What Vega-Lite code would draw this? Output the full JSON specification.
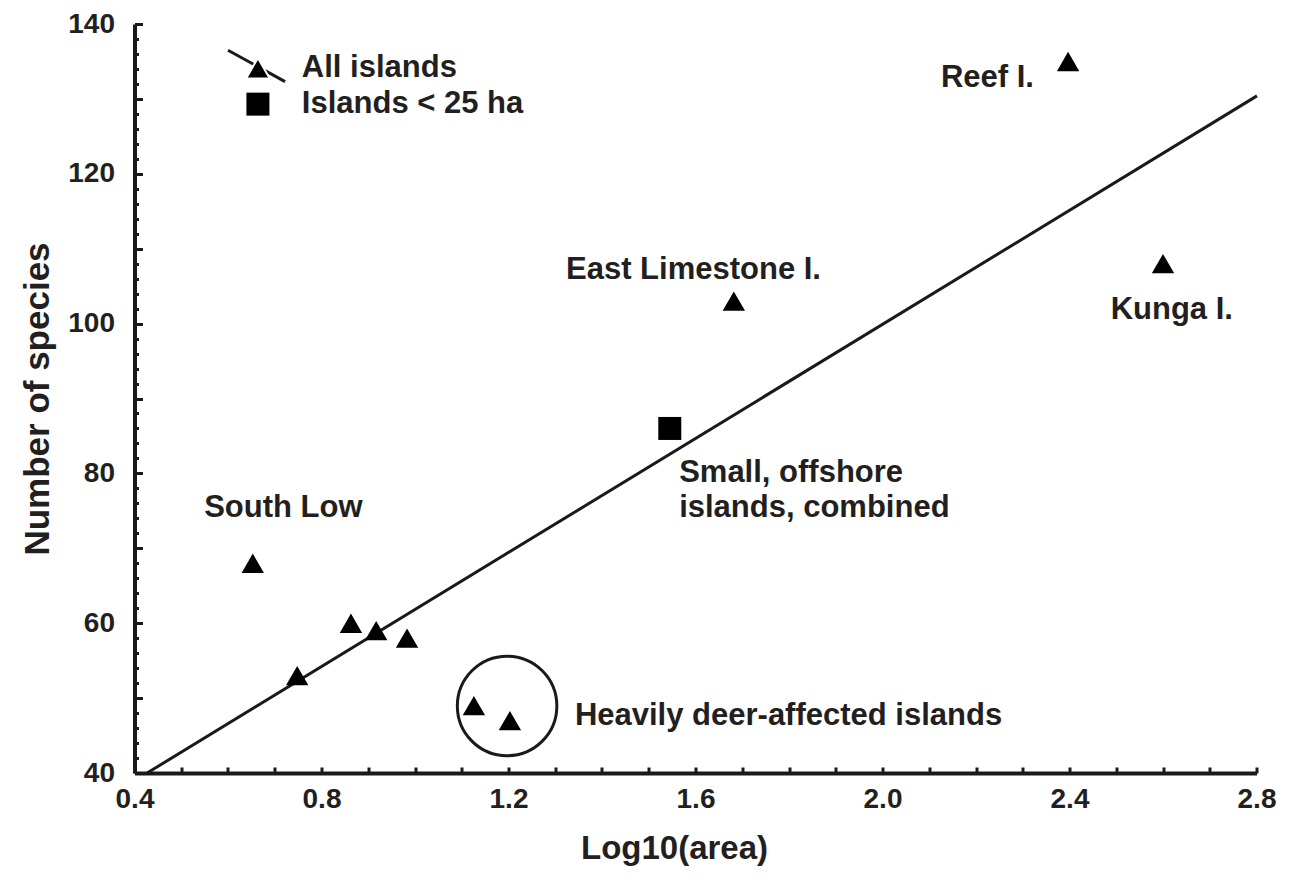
{
  "$schema": "https://vega.github.io/schema/vega-lite/v6.json",
  "width": 1122,
  "height": 749,
  "autosize": "none",
  "padding": {"left": 134.5, "top": 24, "right": 32.5, "bottom": 113},
  "background": "white",
  "config": {
    "view": {"stroke": null},
    "font": "Liberation Sans",
    "axis": {
      "grid": false,
      "domainColor": "#1a1a1a",
      "domainWidth": 4,
      "tickColor": "#1a1a1a",
      "tickWidth": 3,
      "labelFont": "Liberation Sans",
      "labelFontSize": 28,
      "labelFontWeight": "bold",
      "labelColor": "#231f20",
      "labelFlush": false,
      "labelOverlap": false,
      "titleFont": "Liberation Sans",
      "titleFontWeight": "bold",
      "titleColor": "#231f20"
    }
  },
  "datasets": {
    "points": [
      {"area": 0.653, "species": 68, "group": "All islands"},
      {"area": 0.748, "species": 53, "group": "All islands"},
      {"area": 0.863, "species": 60, "group": "All islands"},
      {"area": 0.917, "species": 59, "group": "All islands"},
      {"area": 0.983, "species": 58, "group": "All islands"},
      {"area": 1.126, "species": 49, "group": "All islands"},
      {"area": 1.203, "species": 47, "group": "All islands"},
      {"area": 1.682, "species": 103, "group": "All islands"},
      {"area": 2.397, "species": 135, "group": "All islands"},
      {"area": 2.6, "species": 108, "group": "All islands"},
      {"area": 1.545, "species": 86, "group": "Islands < 25 ha"},
      {"area": 0.664, "species": 134.1, "group": "legend triangle"},
      {"area": 0.664, "species": 129.3, "group": "legend square"}
    ],
    "lines": [
      {"area": 0.427, "species": 40, "series": "fit"},
      {"area": 2.801, "species": 130.4, "series": "fit"},
      {"area": 0.6, "species": 136.5, "series": "legend"},
      {"area": 0.722, "species": 132.3, "series": "legend"}
    ],
    "ring": [
      {"area": 1.197, "species": 48.95}
    ],
    "labels": [
      {"area": 0.758, "species": 134.1, "text": "All islands"},
      {"area": 0.758, "species": 129.3, "text": "Islands < 25 ha"},
      {"area": 0.549, "species": 75.4, "text": "South Low"},
      {"area": 1.323, "species": 107.2, "text": "East Limestone I."},
      {"area": 2.125, "species": 132.8, "text": "Reef I."},
      {"area": 2.488, "species": 101.8, "text": "Kunga I."},
      {"area": 1.565, "species": 80.05, "text": "Small, offshore"},
      {"area": 1.565, "species": 75.4, "text": "islands, combined"},
      {"area": 1.342, "species": 47.6, "text": "Heavily deer-affected islands"}
    ]
  },
  "encoding": {
    "x": {
      "field": "area",
      "type": "quantitative",
      "scale": {"domain": [0.4, 2.8], "nice": false, "zero": false},
      "axis": {
        "title": "Log10(area)",
        "titleFontSize": 33,
        "titleX": 539.5,
        "titleY": 75,
        "titleBaseline": "middle",
        "titleAlign": "center",
        "values": [0.4, 0.5, 0.6, 0.7, 0.8, 0.9, 1.0, 1.1, 1.2, 1.3, 1.4, 1.5, 1.6, 1.7, 1.8, 1.9, 2.0, 2.1, 2.2, 2.3, 2.4, 2.5, 2.6, 2.7, 2.8],
        "format": ".1f",
        "labelExpr": "round(datum.value * 10) % 4 === 0 ? datum.label : ''",
        "tickSize": -6,
        "labelPadding": 18
      }
    },
    "y": {
      "field": "species",
      "type": "quantitative",
      "scale": {"domain": [40, 140], "nice": false, "zero": false},
      "axis": {
        "title": "Number of species",
        "titleFontSize": 35,
        "titleX": -97,
        "titleY": 374.5,
        "titleBaseline": "middle",
        "titleAlign": "center",
        "titleAngle": -90,
        "values": [40, 42, 44, 46, 48, 50, 52, 54, 56, 58, 60, 62, 64, 66, 68, 70, 72, 74, 76, 78, 80, 82, 84, 86, 88, 90, 92, 94, 96, 98, 100, 102, 104, 106, 108, 110, 112, 114, 116, 118, 120, 122, 124, 126, 128, 130, 132, 134, 136, 138, 140],
        "format": "d",
        "labelExpr": "datum.value % 20 === 0 ? datum.label : ''",
        "tickSize": {"condition": {"test": "datum.value % 10 === 0", "value": -8}, "value": -4},
        "labelPadding": 28
      }
    }
  },
  "layer": [
    {
      "data": {"name": "lines"},
      "mark": {"type": "line", "color": "#1a1a1a", "strokeWidth": 3},
      "encoding": {"detail": {"field": "series"}}
    },
    {
      "data": {"name": "ring"},
      "mark": {"type": "point", "shape": "circle", "filled": false, "size": 9900, "stroke": "#1a1a1a", "strokeWidth": 3, "opacity": 1},
      "encoding": {}
    },
    {
      "data": {"name": "points"},
      "transform": [{"filter": "datum.group === 'All islands'"}],
      "mark": {"type": "point", "shape": "triangle-up", "filled": true, "size": 500, "color": "#000000", "opacity": 1}
    },
    {
      "data": {"name": "points"},
      "transform": [{"filter": "datum.group === 'legend triangle'"}],
      "mark": {"type": "point", "shape": "triangle-up", "filled": true, "size": 560, "color": "#000000", "opacity": 1, "stroke": "white", "strokeWidth": 2}
    },
    {
      "data": {"name": "points"},
      "transform": [{"filter": "datum.group === 'Islands < 25 ha' || datum.group === 'legend square'"}],
      "mark": {"type": "point", "shape": "square", "filled": true, "size": 529, "color": "#000000", "opacity": 1}
    },
    {
      "data": {"name": "labels"},
      "mark": {"type": "text", "align": "left", "baseline": "middle", "font": "Liberation Sans", "fontWeight": "bold", "fontSize": 31, "color": "#231f20"},
      "encoding": {"text": {"field": "text"}}
    }
  ]
}
